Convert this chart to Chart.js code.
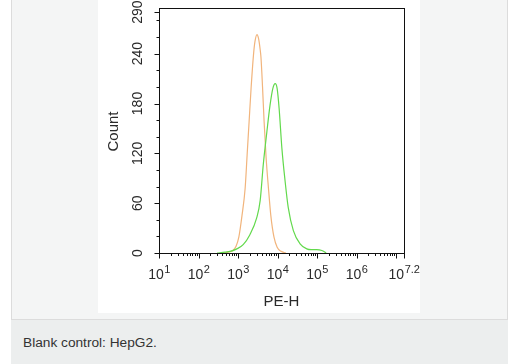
<!DOCTYPE html>
<html>
<head>
<meta charset="utf-8">
<script src="https://cdn.jsdelivr.net/npm/chart.js@4/dist/chart.umd.min.js"></script>
<style>
  html, body { margin: 0; padding: 0; width: 508px; height: 364px; overflow: hidden; background: #fff; }
  #panel { position: absolute; left: 11px; top: -1px; width: 497px; height: 321px; box-sizing: border-box;
           background: #f4f5f5; border: 1px solid #dcdcdc; }
  #plot { position: absolute; left: 98px; top: 0; width: 322px; height: 313px; background: #fff; }
  #caption { position: absolute; left: 11px; top: 320px; width: 497px; height: 44px; background: #eceeee;
             font: 13.7px "Liberation Sans", Arial, sans-serif; color: #333; }
  #caption span { position: absolute; left: 12px; top: 15px; }
</style>
</head>
<body>
<div id="panel"></div>
<div id="plot"><canvas id="histChart" width="322" height="313"></canvas></div>
<div id="caption"><span>Blank control: HepG2.</span></div>
<script>
// x values are decades, log10(PE-H)
var controlX = [2.59, 2.75, 2.87, 2.95, 3.02, 3.10, 3.18, 3.23, 3.28, 3.33, 3.39, 3.43, 3.48, 3.52, 3.56, 3.58, 3.62, 3.66, 3.71, 3.77, 3.83, 3.91, 3.99, 4.09, 4.21];
var controlCount = [0, 1, 3, 8, 19, 45, 78, 118, 158, 198, 238, 255, 263, 258, 245, 236, 200, 158, 115, 78, 45, 19, 7, 2, 0];

var sampleX = [2.47, 2.67, 2.80, 2.97, 3.13, 3.30, 3.47, 3.56, 3.64, 3.73, 3.81, 3.88, 3.94, 3.99, 4.04, 4.11, 4.19, 4.27, 4.40, 4.57, 4.74, 4.85, 4.99, 5.12, 5.23];
var sampleCount = [0, 1, 2, 5, 10, 22, 42, 63, 107, 146, 178, 198, 204, 198, 174, 126, 87, 55, 27, 11, 5, 4, 4, 3, 0];

var xMajor = [1, 2, 3, 4, 5, 6, 7, 7.2];
var xLabelExp = ['1', '2', '3', '4', '5', '6', '', '7.2'];
var yMajor = [0, 60, 120, 180, 240, 290];
var yMinor = [20, 40, 80, 100, 140, 160, 200, 220, 260, 280];

var FONT = '"Liberation Sans", Arial, sans-serif';

function toPoints(xs, ys) {
    return xs.map(function (v, i) { return { x: v, y: ys[i] }; });
}

// R-style axes drawn from the chart's own scales
var rAxes = {
    id: 'rAxes',
    afterDraw: function (chart) {
        var ctx = chart.ctx, a = chart.chartArea;
        var xs = chart.scales.x, ys = chart.scales.y;
        var L = Math.round(a.left) + 0.5, R = Math.round(a.right) + 0.5;
        var T = Math.round(a.top) + 0.5, B = Math.round(a.bottom) + 0.5;
        ctx.save();
        ctx.strokeStyle = '#111';
        ctx.lineWidth = 1;
        ctx.strokeRect(L, T, R - L, B - T);

        ctx.beginPath();
        // y ticks
        yMajor.forEach(function (v) {
            var p = Math.round(ys.getPixelForValue(v)) + 0.5;
            ctx.moveTo(L, p); ctx.lineTo(L - 5, p);
        });
        yMinor.forEach(function (v) {
            var p = Math.round(ys.getPixelForValue(v)) + 0.5;
            ctx.moveTo(L, p); ctx.lineTo(L - 3, p);
        });
        // x ticks
        xMajor.forEach(function (v) {
            var p = Math.round(xs.getPixelForValue(v)) + 0.5;
            ctx.moveTo(p, B); ctx.lineTo(p, B + 5);
        });
        for (var d = 1; d < 8; d++) {
            for (var k = 2; k <= 9; k++) {
                var e = d + Math.log10(k);
                if (e > 7.2) break;
                var p = Math.round(xs.getPixelForValue(e)) + 0.5;
                ctx.moveTo(p, B); ctx.lineTo(p, B + 2.5);
            }
        }
        ctx.stroke();

        ctx.fillStyle = '#2a2a2a';
        // y labels, rotated
        ctx.textAlign = 'center';
        ctx.textBaseline = 'middle';
        ctx.font = '14px ' + FONT;
        yMajor.forEach(function (v) {
            ctx.save();
            ctx.translate(40.5, ys.getPixelForValue(v));
            ctx.rotate(-Math.PI / 2);
            ctx.fillText(String(v), 0, 0);
            ctx.restore();
        });
        // x labels: 10 with superscript
        ctx.textAlign = 'left';
        ctx.textBaseline = 'alphabetic';
        xMajor.forEach(function (v, i) {
            var sup = xLabelExp[i];
            if (!sup) return;
            ctx.font = '14px ' + FONT;
            var wb = ctx.measureText('10').width;
            ctx.font = '11px ' + FONT;
            var ws = ctx.measureText(sup).width;
            var x0 = xs.getPixelForValue(v) - (wb + ws) / 2;
            ctx.font = '14px ' + FONT;
            ctx.fillText('10', x0, 278.5);
            ctx.font = '11px ' + FONT;
            ctx.fillText(sup, x0 + wb + 0.5, 273);
        });
        // axis titles
        ctx.font = '15px ' + FONT;
        ctx.textAlign = 'center';
        ctx.fillText('PE-H', (a.left + a.right) / 2, 305.5);
        ctx.save();
        ctx.translate(15.5, (a.top + a.bottom) / 2 + 1);
        ctx.rotate(-Math.PI / 2);
        ctx.textBaseline = 'middle';
        ctx.fillText('Count', 0, 0);
        ctx.restore();
        ctx.restore();
    }
};

new Chart(document.getElementById('histChart'), {
    type: 'line',
    data: {
        datasets: [{
            label: 'HepG2',
            data: toPoints(sampleX, sampleCount),
            borderColor: '#62d94c',
            borderWidth: 1.2,
            pointRadius: 0,
            cubicInterpolationMode: 'monotone',
            fill: false
        }, {
            label: 'Blank control',
            data: toPoints(controlX, controlCount),
            borderColor: '#f1b47c',
            borderWidth: 1.2,
            pointRadius: 0,
            cubicInterpolationMode: 'monotone',
            fill: false
        }]
    },
    options: {
        responsive: false,
        animation: false,
        layout: { padding: { left: 61, right: 16, top: 8, bottom: 60 } },
        plugins: { legend: { display: false }, tooltip: { enabled: false } },
        scales: {
            x: { type: 'linear', min: 1, max: 7.2, display: false },
            y: { min: 0, max: 295, display: false }
        }
    },
    plugins: [rAxes]
});
</script>
</body>
</html>
